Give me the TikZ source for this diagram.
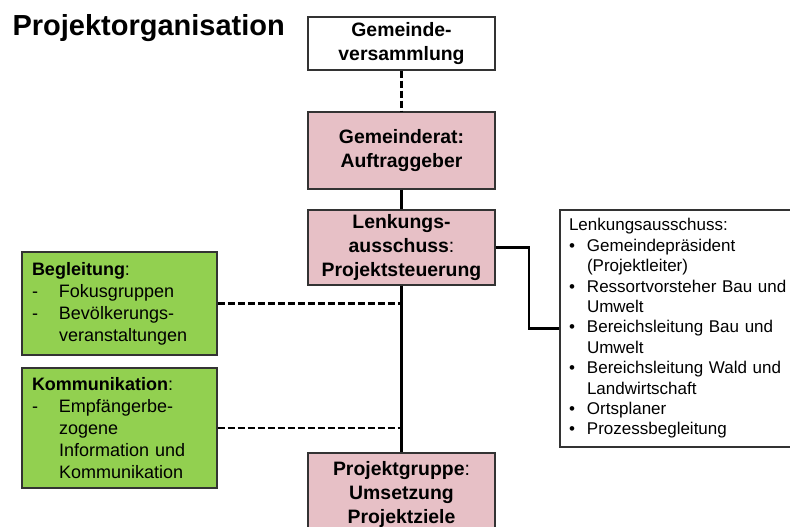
\documentclass[tikz,border=0pt]{standalone}
\usepackage{fontspec}
\setmainfont{Liberation Sans}
\usepackage{tikz}
\usetikzlibrary{positioning}
\definecolor{rosa}{RGB}{231,192,198}
\definecolor{gruen}{RGB}{146,208,80}
\tikzstyle{my dashed} = [dash pattern=on 7pt off 3pt]
\tikzstyle{gremium} = [draw=black!80, line width=1.4pt, fill=rosa, minimum width=187pt, align=center, font=\fontsize{19.4}{24}\selectfont]
\tikzstyle{begleit} = [draw=black!80, line width=1.4pt, fill=gruen, minimum width=195pt, text width=175pt, inner xsep=10pt, align=left, font=\fontsize{18}{22}\selectfont]
\tikzstyle{verbindung} = [line width=2.2pt, black]
\newcommand{\strich}[1]{\makebox[27pt][l]{-}#1}
\newcommand{\punkt}[1]{\makebox[18pt][l]{\textbullet}#1}

\begin{document}
\begin{tikzpicture}[x=1pt,y=-1pt]
  \useasboundingbox (0,0) rectangle (790,527);
  \node[anchor=west, font=\fontsize{29}{34}\selectfont\bfseries] (titel) at (9,28) {Projektorganisation};
  % Gremien
  \node[gremium, fill=white, minimum height=53pt] (gv) at (401.5,43.5) {\textbf{Gemeinde-}\\\textbf{versammlung}};
  \node[gremium, minimum height=77pt] (gr) at (401.5,150.5) {\textbf{Gemeinderat:}\\\textbf{Auftraggeber}};
  \node[gremium, minimum height=75pt] (lk) at (401.5,247.5) {\textbf{Lenkungs-}\\\textbf{ausschuss}:\\\textbf{Projektsteuerung}};
  \node[gremium, minimum height=82pt] (pg) at (401.5,494) {\textbf{Projektgruppe}:\\\textbf{Umsetzung}\\\textbf{Projektziele}};
  % Begleitung
  \node[begleit, minimum height=103pt] (beg) at (119.5,303.5) {\textbf{Begleitung}:\\\strich{Fokusgruppen}\\\strich{Bevölkerungs-}\\\hspace*{27pt}veranstaltungen};
  \node[begleit, minimum height=120pt] (kom) at (119.5,428) {\textbf{Kommunikation}:\\\strich{Empfängerbe-}\\\hspace*{27pt}zogene\\\hspace*{27pt}Information und\\\hspace*{27pt}Kommunikation};
  % Mitglieder
  \node[draw=black!80, line width=1.4pt, fill=white, minimum width=240pt, minimum height=237pt, text width=222pt, inner xsep=9pt, align=left, font=\fontsize{17}{20.4}\selectfont] (lka) at (680,328.5) {Lenkungsausschuss:\\\punkt{Gemeindepräsident}\\\hspace*{18pt}(Projektleiter)\\\punkt{Ressortvorsteher Bau und}\\\hspace*{18pt}Umwelt\\\punkt{Bereichsleitung Bau und}\\\hspace*{18pt}Umwelt\\\punkt{Bereichsleitung Wald und}\\\hspace*{18pt}Landwirtschaft\\\punkt{Ortsplaner}\\\punkt{Prozessbegleitung}};
  % Linien
  \draw[verbindung, my dashed] (gv.south) -- (gr.north);
  \draw[verbindung] (gr.south) -- (lk.north);
  \draw[verbindung] (lk.south) -- (pg.north);
  \draw[verbindung, my dashed] (beg.east) -- (beg.east -| lk.south);
  \draw[verbindung, my dashed] (kom.east) -- (kom.east -| lk.south);
  \draw[verbindung] (lk.east) -- ++(33,0) |- (lka.west);
\end{tikzpicture}
\end{document}
